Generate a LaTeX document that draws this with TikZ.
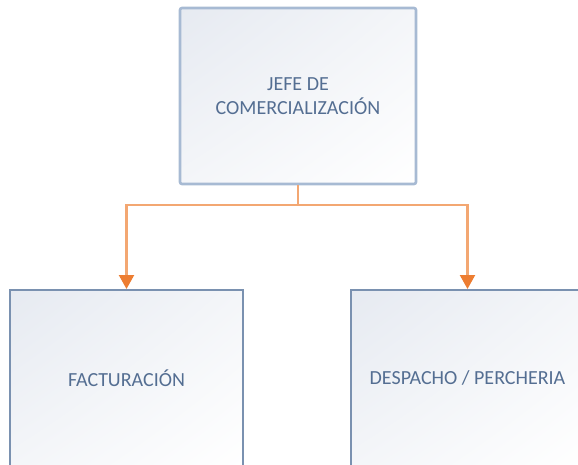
\documentclass[tikz,border=0pt]{standalone}
\usepackage{fontspec}
\setmainfont{Carlito}
\usetikzlibrary{arrows.meta,shadings}
\definecolor{boxtext}{HTML}{546E92}
\definecolor{headframe}{HTML}{A7BAD3}
\definecolor{unitframe}{HTML}{7A91B0}
\definecolor{shadetop}{HTML}{E6EAF1}
\definecolor{linkline}{HTML}{F3A772}
\definecolor{linktip}{HTML}{ED7D31}
\begin{document}
\begin{tikzpicture}[x=1pt,y=-1pt,
  orgbox/.style={rectangle, minimum width=233pt, minimum height=176pt,
    inner sep=0pt, align=center, text=boxtext,
    font=\fontsize{20}{24.5}\selectfont,
    upper left=shadetop, lower right=white,
    upper right=shadetop!45!white, lower left=shadetop!45!white},
  headbox/.style={orgbox, draw=headframe, line width=2.6pt, rounded corners=2pt,
    minimum width=236pt},
  unitbox/.style={orgbox, draw=unitframe, line width=1.6pt},
  link/.style={draw=linkline, line width=2.2pt,
    -{Triangle[length=14pt,width=15pt,color=linktip]}}]
\useasboundingbox (0,0) rectangle (578,465);

% head of the department
\node[headbox] (jefe) at (298,96) {JEFE DE\\COMERCIALIZACIÓN};

% the two units below it
\node[unitbox, anchor=north] (fact) at (126.5,289) {FACTURACIÓN};
\node[unitbox, anchor=north] (desp) at (467.5,289) {DESPACHO / PERCHERIA};

% branching connectors
\coordinate (split) at (298,205);
\draw[link] (jefe.south) -- (split) -| (fact.north);
\draw[link] (split) -| (desp.north);
\end{tikzpicture}
\end{document}
